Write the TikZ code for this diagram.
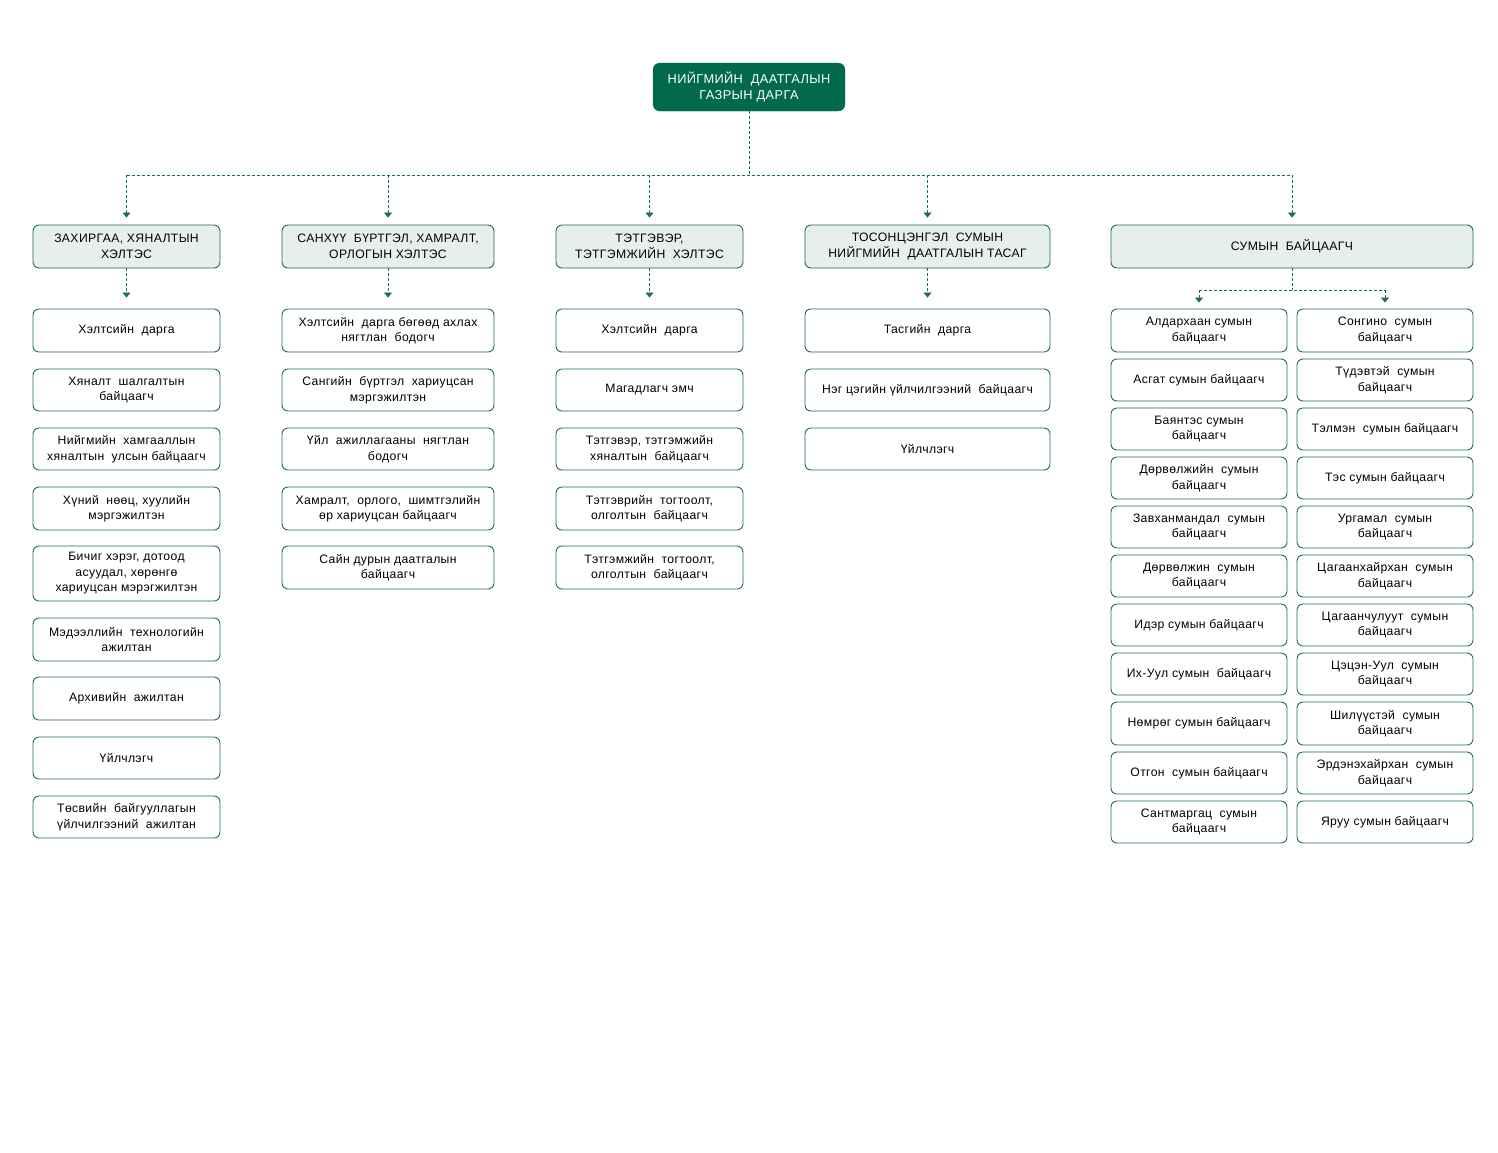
\documentclass[tikz,border=0pt]{standalone}
\usepackage{fontspec}
\setmainfont[LetterSpace=3]{Liberation Sans}
\usetikzlibrary{arrows.meta}
\definecolor{dkgreen}{HTML}{006A4B}
\definecolor{lnGreen}{HTML}{1E6E52}
\definecolor{hdfill}{HTML}{E6EFEB}
\tikzset{
  bx/.style={draw=lnGreen, line width=0.9pt, rounded corners=6pt, fill=white, align=center,
    font=\fontsize{12.2}{15.5}\selectfont, text=black, inner sep=1pt},
  hd/.style={bx, fill=hdfill, minimum height=43pt},
  topbox/.style={draw=dkgreen, fill=dkgreen, rounded corners=7pt, text=white, align=center,
    font=\fontsize{12.8}{16}\selectfont, minimum width=192pt, minimum height=48pt, inner sep=1pt},
  dl/.style={draw=lnGreen, line width=0.8pt, dash pattern=on 3pt off 2pt},
  dla/.style={dl, -{Triangle[width=8pt,length=5pt]}},
}
\newcommand{\cbox}[5]{\node[bx, minimum width=#2pt, minimum height=#3pt] (#1) at #4 {#5};}
\begin{document}
\begin{tikzpicture}[x=1pt,y=-1pt]
\useasboundingbox (0,0) rectangle (1498,1152);
% top
\node[topbox] (top) at (749,87) {НИЙГМИЙН~ ДААТГАЛЫН\\ГАЗРЫН ДАРГА};
% headers
\node[hd, minimum width=187pt] (h1) at (126.5,246.5) {ЗАХИРГАА, ХЯНАЛТЫН\\ХЭЛТЭС};
\node[hd, minimum width=212pt] (h2) at (388,246.5) {САНХҮҮ~ БҮРТГЭЛ, ХАМРАЛТ,\\ОРЛОГЫН ХЭЛТЭС};
\node[hd, minimum width=187pt] (h3) at (649.5,246.5) {ТЭТГЭВЭР,\\ТЭТГЭМЖИЙН~ ХЭЛТЭС};
\node[hd, minimum width=245pt] (h4) at (927.5,246.5) {ТОСОНЦЭНГЭЛ~ СУМЫН\\НИЙГМИЙН~ ДААТГАЛЫН ТАСАГ};
\node[hd, minimum width=362pt] (h5) at (1292,246.5) {СУМЫН~ БАЙЦААГЧ};
% connectors from top
\coordinate (j) at (749,175);
\draw[dl] (top.south) -- (j);
\draw[dl] (h1.north |- j) -- (h5.north |- j);
\foreach \h in {h1,h2,h3,h4,h5}{
  \draw[dla, shorten >=7pt] (\h.north |- j) -- (\h.north);
}
% column 1
\cbox{a1}{187}{43}{(126.5,330.5)}{Хэлтсийн~ дарга}
\cbox{a2}{187}{42}{(126.5,390)}{Хяналт~ шалгалтын\\байцаагч}
\cbox{a3}{187}{42}{(126.5,449)}{Нийгмийн~ хамгааллын\\хяналтын~ улсын байцаагч}
\cbox{a4}{187}{43}{(126.5,508.5)}{Хүний~ нөөц, хуулийн\\мэргэжилтэн}
\cbox{a5}{187}{55}{(126.5,573.5)}{Бичиг хэрэг, дотоод\\асуудал, хөрөнгө\\хариуцсан мэрэгжилтэн}
\cbox{a6}{187}{43}{(126.5,639.5)}{Мэдээллийн~ технологийн\\ажилтан}
\cbox{a7}{187}{43}{(126.5,698.5)}{Архивийн~ ажилтан}
\cbox{a8}{187}{42}{(126.5,758)}{Үйлчлэгч}
\cbox{a9}{187}{42}{(126.5,817)}{Төсвийн~ байгууллагын\\үйлчилгээний~ ажилтан}
% column 2
\cbox{b1}{212}{43}{(388,330.5)}{Хэлтсийн~ дарга бөгөөд ахлах\\нягтлан~ бодогч}
\cbox{b2}{212}{42}{(388,390)}{Сангийн~ бүртгэл~ хариуцсан\\мэргэжилтэн}
\cbox{b3}{212}{42}{(388,449)}{Үйл~ ажиллагааны~ нягтлан\\бодогч}
\cbox{b4}{212}{43}{(388,508.5)}{Хамралт,~ орлого,~ шимтгэлийн\\өр хариуцсан байцаагч}
\cbox{b5}{212}{43}{(388,567.5)}{Сайн дурын даатгалын\\байцаагч}
% column 3
\cbox{c1}{187}{43}{(649.5,330.5)}{Хэлтсийн~ дарга}
\cbox{c2}{187}{42}{(649.5,390)}{Магадлагч эмч}
\cbox{c3}{187}{42}{(649.5,449)}{Тэтгэвэр, тэтгэмжийн\\хяналтын~ байцаагч}
\cbox{c4}{187}{43}{(649.5,508.5)}{Тэтгэврийн~ тогтоолт,\\олголтын~ байцаагч}
\cbox{c5}{187}{43}{(649.5,567.5)}{Тэтгэмжийн~ тогтоолт,\\олголтын~ байцаагч}
% column 4
\cbox{d1}{245}{43}{(927.5,330.5)}{Тасгийн~ дарга}
\cbox{d2}{245}{42}{(927.5,390)}{Нэг цэгийн үйлчилгээний~ байцаагч}
\cbox{d3}{245}{42}{(927.5,449)}{Үйлчлэгч}
% column 5 left
\cbox{e1}{176}{43}{(1199,330.5)}{Алдархаан сумын\\байцаагч}
\cbox{e2}{176}{42}{(1199,380)}{Асгат сумын байцаагч}
\cbox{e3}{176}{42}{(1199,429)}{Баянтэс сумын\\байцаагч}
\cbox{e4}{176}{42}{(1199,478)}{Дөрвөлжийн~ сумын\\байцаагч}
\cbox{e5}{176}{42}{(1199,527)}{Завханмандал~ сумын\\байцаагч}
\cbox{e6}{176}{42}{(1199,576)}{Дөрвөлжин~ сумын\\байцаагч}
\cbox{e7}{176}{42}{(1199,625)}{Идэр сумын байцаагч}
\cbox{e8}{176}{42}{(1199,674)}{Их-Уул сумын~ байцаагч}
\cbox{e9}{176}{43}{(1199,723.5)}{Нөмрөг сумын байцаагч}
\cbox{e10}{176}{42}{(1199,773)}{Отгон~ сумын байцаагч}
\cbox{e11}{176}{42}{(1199,822)}{Сантмаргац~ сумын\\байцаагч}
% column 5 right
\cbox{f1}{176}{43}{(1385,330.5)}{Сонгино~ сумын\\байцаагч}
\cbox{f2}{176}{42}{(1385,380)}{Түдэвтэй~ сумын\\байцаагч}
\cbox{f3}{176}{42}{(1385,429)}{Тэлмэн~ сумын байцаагч}
\cbox{f4}{176}{42}{(1385,478)}{Тэс сумын байцаагч}
\cbox{f5}{176}{42}{(1385,527)}{Ургамал~ сумын\\байцаагч}
\cbox{f6}{176}{42}{(1385,576)}{Цагаанхайрхан~ сумын\\байцаагч}
\cbox{f7}{176}{42}{(1385,625)}{Цагаанчулуут~ сумын\\байцаагч}
\cbox{f8}{176}{42}{(1385,674)}{Цэцэн-Уул~ сумын\\байцаагч}
\cbox{f9}{176}{43}{(1385,723.5)}{Шилүүстэй~ сумын\\байцаагч}
\cbox{f10}{176}{42}{(1385,773)}{Эрдэнэхайрхан~ сумын\\байцаагч}
\cbox{f11}{176}{42}{(1385,822)}{Яруу сумын байцаагч}
% header to first boxes
\draw[dla, shorten >=11pt] (h1.south) -- (a1.north);
\draw[dla, shorten >=11pt] (h2.south) -- (b1.north);
\draw[dla, shorten >=11pt] (h3.south) -- (c1.north);
\draw[dla, shorten >=11pt] (h4.south) -- (d1.north);
\coordinate (k) at (1292,290);
\draw[dl] (h5.south) -- (k);
\draw[dl] (e1.north |- k) -- (f1.north |- k);
\draw[dla, shorten >=6pt] (e1.north |- k) -- (e1.north);
\draw[dla, shorten >=6pt] (f1.north |- k) -- (f1.north);
\end{tikzpicture}
\end{document}
